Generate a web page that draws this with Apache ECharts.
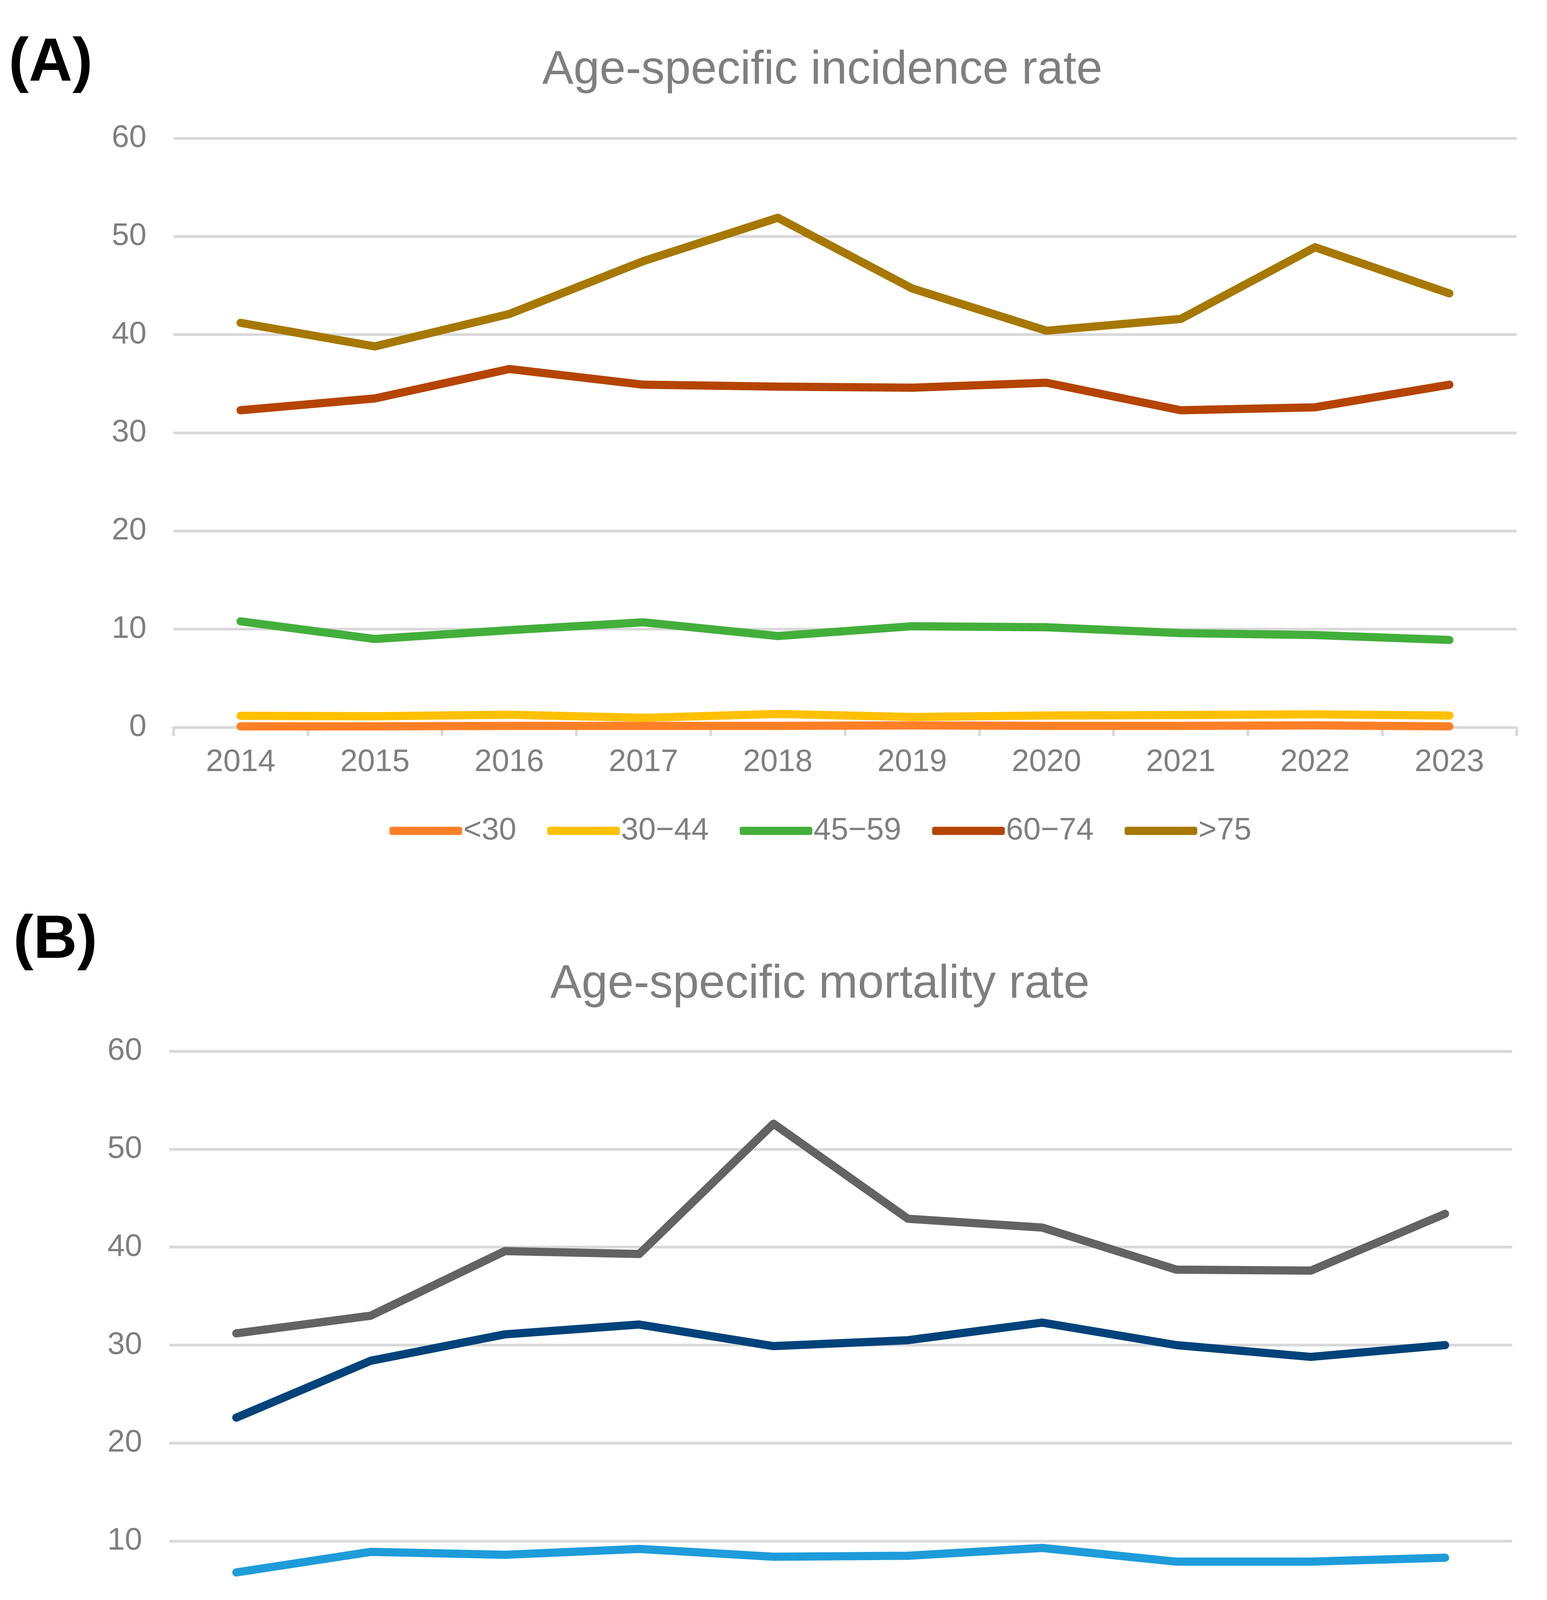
<!DOCTYPE html>
<html>
<head>
<meta charset="utf-8">
<script src="https://cdn.jsdelivr.net/npm/echarts@6/dist/echarts.min.js"></script>
<style>
html,body{margin:0;padding:0;background:#fff;}
#wrap{position:relative;width:3960px;height:4529px;overflow:hidden;}
#c1{position:absolute;left:0;top:0;width:3960px;height:2300px;}
#c2{position:absolute;left:0;top:2300px;width:3960px;height:2229px;}
</style>
</head>
<body>
<div id="wrap">
<div id="c1"></div>
<div id="c2"></div>
</div>
<script>
const years = ['2014','2015','2016','2017','2018','2019','2020','2021','2022','2023'];
const groups = ['<30','30\u221244','45\u221259','60\u221274','>75'];

// (A) incidence
const incU30   = [0.1, 0.1, 0.15, 0.15, 0.15, 0.2, 0.15, 0.15, 0.2, 0.1];
const inc30_44 = [1.17, 1.13, 1.28, 0.97, 1.36, 1.05, 1.2, 1.25, 1.32, 1.2];
const inc45_59 = [10.8, 9.0, 9.9, 10.7, 9.3, 10.3, 10.2, 9.6, 9.4, 8.9];
const inc60_74 = [32.3, 33.5, 36.5, 34.9, 34.7, 34.6, 35.1, 32.3, 32.6, 34.9];
const incO75   = [41.2, 38.8, 42.1, 47.5, 51.9, 44.7, 40.4, 41.6, 48.9, 44.2];

// (B) mortality
const morU30   = [0.05, 0.05, 0.05, 0.05, 0.05, 0.05, 0.05, 0.05, 0.05, 0.02];
const mor30_44 = [0.66, 0.93, 0.86, 0.86, 0.93, 0.7, 0.86, 0.82, 1.17, 0.58];
const mor45_59 = [6.8, 8.9, 8.6, 9.2, 8.4, 8.5, 9.3, 7.9, 7.9, 8.3];
const mor60_74 = [22.6, 28.4, 31.1, 32.1, 29.9, 30.5, 32.3, 30.0, 28.8, 30.0];
const morO75   = [31.2, 33.0, 39.6, 39.3, 52.6, 42.9, 42.0, 37.7, 37.6, 43.4];

const colorsA = ['#FF7F27','#FFC000','#43AF3B','#B54400','#A67800'];
const colorsB = ['#1874C9','#A5A5A5','#1E9CDA','#00437A','#636363'];

const FONT = '"Liberation Sans", Arial, sans-serif';
const GRAY = '#7f7f7f';

function build(cfg) {
  return {
    animation: false,
    backgroundColor: '#ffffff',
    textStyle: { fontFamily: FONT },
    title: {
      text: cfg.title,
      left: cfg.titleX,
      top: cfg.titleTop,
      textAlign: 'center',
      textStyle: { fontFamily: FONT, fontSize: 120, fontWeight: 'normal', color: GRAY }
    },
    graphic: [{
      type: 'text',
      left: cfg.tagLeft,
      top: cfg.tagTop,
      style: { text: cfg.tag, fontFamily: FONT, fontSize: 155, fontWeight: 'bold', fill: '#000' }
    }],
    legend: {
      left: cfg.legendLeft,
      top: cfg.legendTop,
      icon: 'roundRect',
      itemWidth: 186,
      itemHeight: 21,
      itemGap: 79,
      textStyle: { fontFamily: FONT, fontSize: 80, color: GRAY, padding: [0, 0, 0, -2] },
      data: groups
    },
    grid: { left: cfg.gridLeft, right: cfg.gridRight, top: cfg.gridTop, bottom: cfg.gridBottom, containLabel: false },
    xAxis: {
      type: 'category',
      data: years,
      boundaryGap: true,
      axisLine: { lineStyle: { color: '#d9d9d9', width: 7 } },
      axisTick: { show: true, length: 22, lineStyle: { color: '#d9d9d9', width: 7 } },
      axisLabel: { fontFamily: FONT, fontSize: 80, color: GRAY, margin: 50 }
    },
    yAxis: {
      type: 'value',
      min: 0, max: 60, interval: 10,
      axisLine: { show: false },
      axisTick: { show: false },
      splitLine: { lineStyle: { color: '#d9d9d9', width: 7 } },
      axisLabel: { fontFamily: FONT, fontSize: 80, color: GRAY, margin: 69 }
    },
    series: cfg.data.map((d, i) => ({
      name: groups[i],
      type: 'line',
      data: d,
      symbol: 'none',
      smooth: false,
      z: 2 + i,
      itemStyle: { color: cfg.colors[i] },
      lineStyle: { color: cfg.colors[i], width: 21, cap: 'round', join: 'round' }
    }))
  };
}

const c1 = echarts.init(document.getElementById('c1'), null, { renderer: 'canvas' });
c1.setOption(build({
  title: 'Age-specific incidence rate', titleX: 2100, titleTop: 116,
  tag: '(A)', tagLeft: 22, tagTop: 86,
  legendLeft: 992, legendTop: 2082,
  gridLeft: 444, gridRight: 78, gridTop: 354, gridBottom: 438,
  colors: colorsA,
  data: [incU30, inc30_44, inc45_59, inc60_74, incO75]
}));

const c2 = echarts.init(document.getElementById('c2'), null, { renderer: 'canvas' });
c2.setOption(build({
  title: 'Age-specific mortality rate', titleX: 2094, titleTop: 156,
  tag: '(B)', tagLeft: 34, tagTop: 32,
  legendLeft: 985, legendTop: 2121,
  gridLeft: 433, gridRight: 89, gridTop: 391, gridBottom: 333,
  colors: colorsB,
  data: [morU30, mor30_44, mor45_59, mor60_74, morO75]
}));
</script>
</body>
</html>
